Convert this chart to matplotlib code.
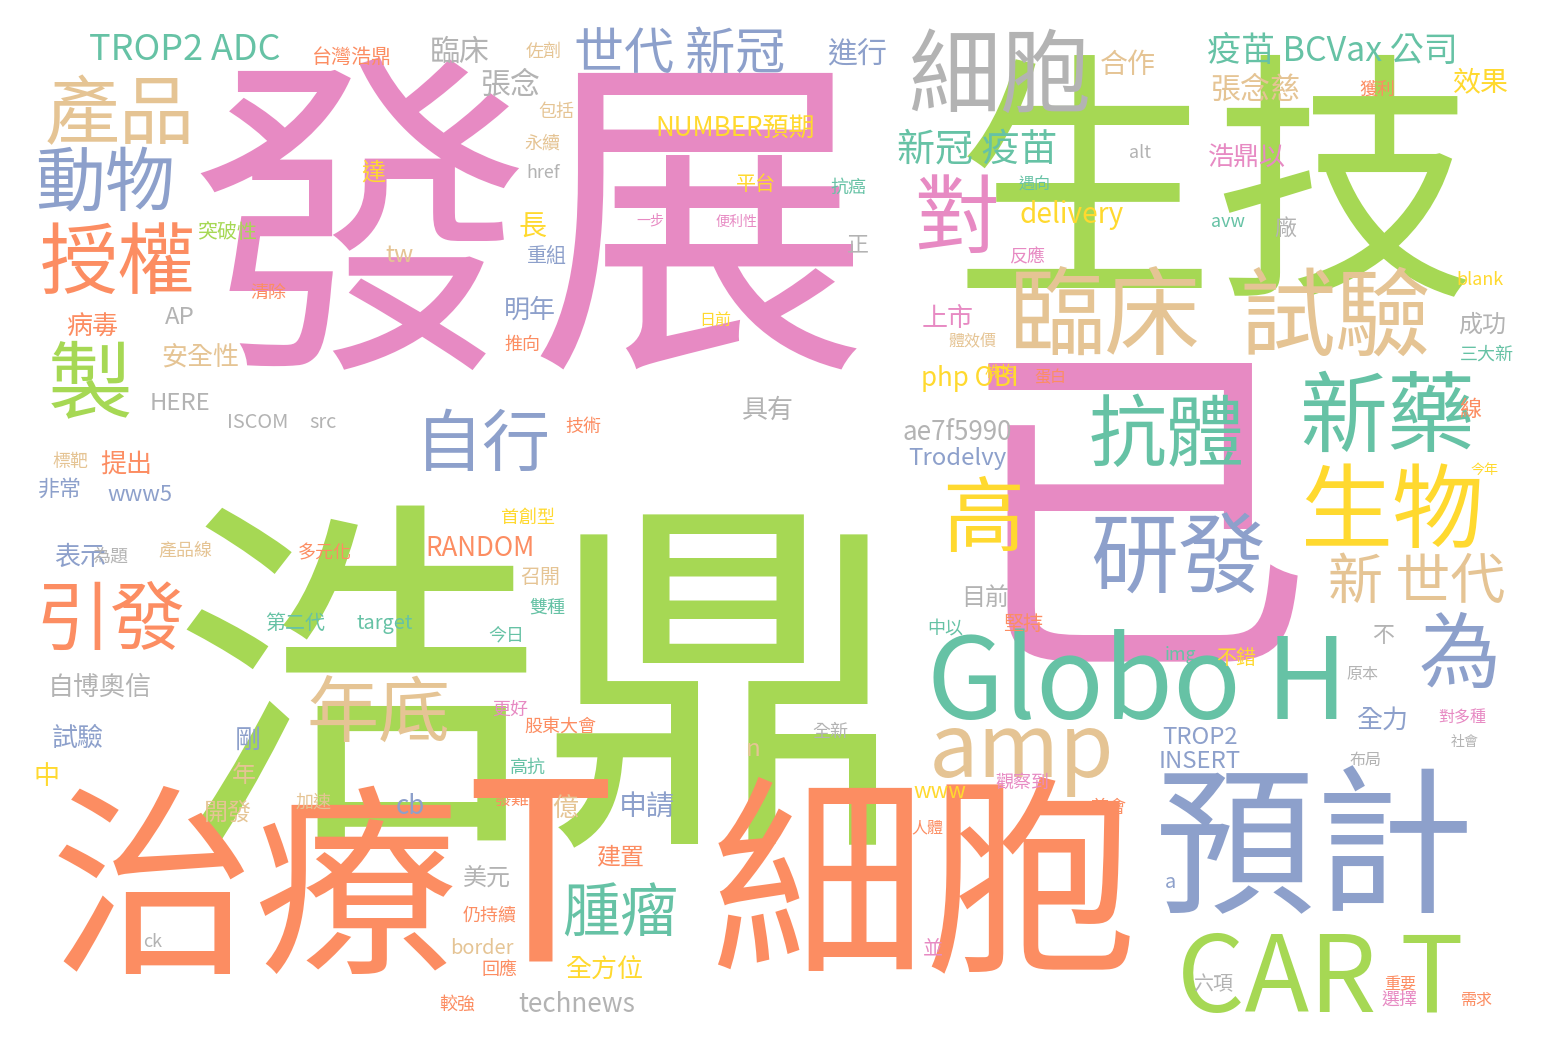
import matplotlib
matplotlib.use("Agg")
import matplotlib.pyplot as plt

P = {"teal": "#66c2a5", "orange": "#fc8d62", "blue": "#8da0cb", "pink": "#e78ac3",
     "green": "#a6d854", "yellow": "#ffd92f", "tan": "#e5c494", "gray": "#b3b3b3"}

words = ["發展", "浩鼎", "已", "生技", "細胞", "治療", "T", "預計", "細胞", "臨床", "試驗",
         "產品", "動物", "授權", "製", "引發", "自行", "對", "抗體", "新藥", "研發", "生物",
         "高", "為", "新 世代", "Globo H", "amp", "CAR T", "年底", "腫瘤", "世代 新冠",
         "疫苗 BCVax 公司", "TROP2 ADC", "新冠 疫苗", "張念慈", "合作", "進行", "臨床", "張念",
         "台灣浩鼎", "NUMBER預期", "delivery", "浩鼎以", "效果", "上市", "php OBI", "ae7f5990",
         "Trodelvy", "具有", "明年", "長", "AP", "病毒", "安全性", "HERE", "tw", "提出", "www5",
         "表示", "RANDOM", "試驗", "自博奧信", "中", "剛", "年", "開發", "cb", "億", "申請",
         "美元", "建置", "全方位", "technews", "TROP2", "INSERT", "全力", "www", "n", "目前",
         "成功", "blank", "avw", "平台", "border", "ck", "img", "不錯", "堅持", "中以", "三大新",
         "第二代", "target", "ISCOM", "src", "技術", "多元化", "首創型", "包括", "永續", "href",
         "達", "alt", "抗癌", "今日", "高抗", "更好", "發難度", "股東大會", "六項", "重組",
         "突破性", "清除", "推向", "反應", "遇向", "獲利", "佐劑", "非常", "產品線", "為題",
         "召開", "仍持續", "回應", "較強", "加速", "觀察到", "慈會", "人體", "並", "a", "布局",
         "原本", "線", "正", "廠", "一步", "便利性", "日前", "體效價", "株均", "蛋白", "標靶",
         "不", "雙種", "全新", "今年", "對多種", "社會", "選擇", "需求", "重要"]
sizes = [340, 370, 360, 262, 215, 205, 250, 160, 92, 96, 96,
         75, 70, 78, 85, 75, 68, 85, 78, 88, 88, 92,
         82, 82, 55, 112, 88, 106, 72, 58, 50,
         34, 36, 38, 30, 28, 30, 30, 30,
         20, 26, 28, 26, 28, 26, 26, 26,
         24, 26, 26, 28, 24, 26, 26, 24, 24, 26, 22,
         26, 26, 26, 26, 26, 26, 24, 24, 26, 26, 28,
         24, 24, 26, 26, 24, 24, 26, 22, 24, 24,
         24, 18, 18, 20, 20, 18, 18, 20, 20, 18, 18,
         20, 20, 20, 20, 18, 18, 18, 18, 18, 18,
         24, 18, 18, 18, 18, 18, 18, 18, 20, 20,
         20, 18, 18, 18, 16, 18, 18, 22, 18, 18,
         20, 18, 18, 18, 18, 18, 18, 16, 20, 20, 16,
         16, 22, 22, 22, 14, 14, 16, 16, 16, 16, 18,
         22, 18, 18, 14, 16, 14, 18, 16, 16]
xs = [530, 540, 1135, 1215, 925, 255, 540, 1315, 1000, 1105, 1335,
      120, 105, 118, 90, 110, 483, 957, 1167, 1387, 1178, 1392,
      983, 1460, 1417, 1137, 1022, 1320, 378, 620, 680,
      1332, 185, 977, 1255, 1128, 857, 460, 510,
      352, 735, 1072, 1247, 1480, 948, 970, 957,
      957, 768, 530, 533, 180, 92, 200, 180, 400, 126, 140,
      80, 480, 78, 100, 47, 248, 244, 228, 410, 565, 647,
      487, 620, 604, 577, 1200, 1200, 1382, 940, 753, 985,
      1482, 1480, 1228, 756, 482, 153, 1180, 1236, 1023, 945, 1487,
      295, 385, 258, 323, 583, 325, 528, 556, 542, 543,
      373, 1140, 848, 506, 528, 510, 520, 560, 1213, 547,
      228, 268, 522, 1027, 1035, 1377, 544, 60, 185, 110,
      540, 490, 500, 457, 313, 1022, 1108, 927, 933, 1170, 1365,
      1362, 1470, 858, 1285, 650, 737, 715, 972, 1000, 1050, 70,
      1383, 547, 830, 1485, 1462, 1465, 1400, 1477, 1400]
ys = [245, 710, 540, 200, 895, 900, 890, 855, 80, 320, 320,
      117, 185, 265, 388, 622, 447, 222, 437, 420, 562, 515,
      522, 657, 583, 687, 752, 982, 715, 915, 55,
      52, 50, 150, 90, 65, 55, 52, 85,
      57, 128, 215, 158, 82, 318, 378, 432,
      458, 410, 310, 228, 318, 327, 357, 403, 255, 465, 495,
      557, 548, 738, 687, 777, 740, 775, 813, 807, 808, 808,
      878, 858, 970, 1005, 738, 762, 720, 792, 750, 598,
      325, 280, 222, 185, 948, 942, 655, 659, 625, 630, 355,
      623, 623, 423, 423, 427, 553, 518, 112, 143, 173,
      173, 153, 188, 637, 768, 710, 800, 727, 985, 257,
      233, 293, 345, 257, 185, 90, 52, 490, 550, 557,
      577, 915, 970, 1005, 803, 783, 808, 828, 950, 882, 760,
      675, 410, 245, 230, 220, 222, 320, 342, 372, 378, 462,
      636, 608, 732, 470, 718, 742, 1000, 1000, 985]
cnames = ["pink", "green", "pink", "green", "orange", "orange", "orange", "blue", "gray", "tan", "tan",
          "tan", "blue", "orange", "green", "orange", "blue", "pink", "teal", "teal", "blue", "yellow",
          "yellow", "blue", "tan", "teal", "tan", "green", "tan", "teal", "blue",
          "teal", "teal", "teal", "tan", "tan", "blue", "gray", "gray",
          "orange", "yellow", "yellow", "pink", "yellow", "pink", "yellow", "gray",
          "blue", "gray", "blue", "yellow", "gray", "orange", "tan", "gray", "tan", "orange", "blue",
          "blue", "orange", "blue", "gray", "yellow", "blue", "tan", "tan", "blue", "tan", "blue",
          "gray", "orange", "yellow", "gray", "blue", "blue", "blue", "yellow", "tan", "gray",
          "gray", "yellow", "teal", "yellow", "tan", "gray", "teal", "yellow", "orange", "teal", "teal",
          "teal", "teal", "gray", "gray", "orange", "orange", "yellow", "tan", "tan", "gray",
          "yellow", "gray", "teal", "teal", "teal", "pink", "orange", "orange", "gray", "blue",
          "green", "orange", "orange", "pink", "teal", "orange", "tan", "blue", "tan", "gray",
          "tan", "orange", "orange", "orange", "tan", "pink", "orange", "orange", "pink", "blue", "gray",
          "gray", "orange", "gray", "gray", "pink", "pink", "yellow", "tan", "yellow", "orange", "tan",
          "gray", "teal", "gray", "yellow", "pink", "gray", "pink", "orange", "orange"]

plt.rcParams['font.family'] = ['Noto Sans CJK TC', 'DejaVu Sans']
fig = plt.figure(figsize=(15.48, 10.52), dpi=100)
ax = fig.add_axes([0, 0, 1, 1])
ax.set_xlim(0, 1548)
ax.set_ylim(1052, 0)
ax.axis("off")
for w, s, x, y, c in zip(words, sizes, xs, ys, cnames):
    ax.text(x, y, w, fontsize=s * 72 / 100, color=P[c], ha="center", va="center")
fig.savefig("out.png", dpi=100, facecolor="white")
